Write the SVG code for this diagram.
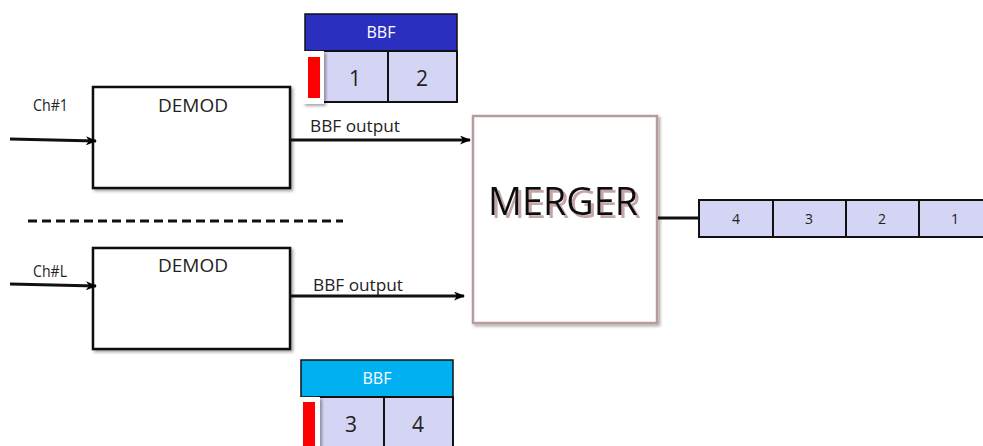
<svg xmlns="http://www.w3.org/2000/svg" width="983" height="446" viewBox="0 0 983 446">
<defs>
<marker id="arr" markerWidth="11" markerHeight="9" refX="10" refY="4.5" orient="auto" markerUnits="userSpaceOnUse">
<path d="M0,0 L11,4.5 L0,9 L3,4.5 Z" fill="#000"/>
</marker>
<filter id="sh" x="-10%" y="-10%" width="130%" height="130%">
<feGaussianBlur in="SourceAlpha" stdDeviation="1.5"/>
<feOffset dx="2" dy="2" result="b"/>
<feComponentTransfer><feFuncA type="linear" slope="0.35"/></feComponentTransfer>
<feMerge><feMergeNode/><feMergeNode in="SourceGraphic"/></feMerge>
</filter>
<filter id="tsh" x="-10%" y="-20%" width="130%" height="150%">
<feOffset in="SourceAlpha" dx="2.5" dy="2.5" result="o"/>
<feFlood flood-color="#c4a6a6"/>
<feComposite in2="o" operator="in"/>
<feMerge><feMergeNode/><feMergeNode in="SourceGraphic"/></feMerge>
</filter>
</defs>
<style>
.t{font-family:"Open Sans","Liberation Sans",sans-serif;fill:#222}
.box{fill:#fff;stroke:#111;stroke-width:2.5}
.cell{fill:#d4d4f4;stroke:#111;stroke-width:2}
.ln{stroke:#111;stroke-width:2.8;fill:none}
</style>
<rect width="983" height="446" fill="#fff"/>

<g id="demod1">
<rect class="box" x="93" y="87" width="197" height="101" filter="url(#sh)"/>
<text class="t" x="158" y="112" font-size="18" textLength="70" lengthAdjust="spacingAndGlyphs">DEMOD</text>
</g>
<g id="demodL">
<rect class="box" x="93" y="248" width="197" height="101" filter="url(#sh)"/>
<text class="t" x="158" y="272" font-size="18" textLength="70" lengthAdjust="spacingAndGlyphs">DEMOD</text>
</g>

<g id="labels">
<text class="t" x="33" y="111" font-size="17" textLength="35" lengthAdjust="spacingAndGlyphs">Ch#1</text>
<text class="t" x="33" y="277" font-size="17" textLength="34" lengthAdjust="spacingAndGlyphs">Ch#L</text>
<text class="t" x="310" y="132" font-size="16" textLength="90" lengthAdjust="spacingAndGlyphs">BBF output</text>
<text class="t" x="313" y="291" font-size="16" textLength="90" lengthAdjust="spacingAndGlyphs">BBF output</text>
</g>

<g id="merger">
<rect x="473" y="116" width="184" height="207" fill="#fff" stroke="#b89c9c" stroke-width="2.5" filter="url(#sh)"/>
<text class="t" x="563" y="215" font-size="38" text-anchor="middle" textLength="150" lengthAdjust="spacingAndGlyphs" filter="url(#tsh)" style="fill:#111">MERGER</text>
</g>

<g id="bbf1">
<rect x="305" y="14" width="152" height="37" fill="#2b2fc0" stroke="#111" stroke-width="1.5"/>
<text x="381" y="38" font-size="16" text-anchor="middle" font-family="Open Sans, Liberation Sans, sans-serif" fill="#fff">BBF</text>
<rect class="cell" x="322" y="51" width="66" height="51"/>
<rect class="cell" x="388" y="51" width="69" height="51"/>
<rect x="303" y="51" width="21" height="53" fill="#fff" filter="url(#sh)"/>
<rect x="308" y="57" width="12" height="41" fill="#f00"/>
<text class="t" x="355" y="86" font-size="21" text-anchor="middle">1</text>
<text class="t" x="422" y="86" font-size="21" text-anchor="middle">2</text>
</g>

<g id="bbf2">
<rect x="301" y="360" width="152" height="37" fill="#00b0f0" stroke="#111" stroke-width="1.5"/>
<text x="377" y="384" font-size="16" text-anchor="middle" font-family="Open Sans, Liberation Sans, sans-serif" fill="#fff">BBF</text>
<rect class="cell" x="318" y="397" width="66" height="55"/>
<rect class="cell" x="384" y="397" width="69" height="55"/>
<rect x="299" y="397" width="21" height="55" fill="#fff" filter="url(#sh)"/>
<rect x="303" y="402" width="12" height="44" fill="#f00"/>
<text class="t" x="351" y="432" font-size="21" text-anchor="middle">3</text>
<text class="t" x="418" y="432" font-size="21" text-anchor="middle">4</text>
</g>

<g id="queue">
<rect class="cell" x="699" y="200" width="74" height="37"/>
<rect class="cell" x="773" y="200" width="73" height="37"/>
<rect class="cell" x="846" y="200" width="73" height="37"/>
<rect class="cell" x="919" y="200" width="73" height="37"/>
<text class="t" x="736" y="224" font-size="14" text-anchor="middle">4</text>
<text class="t" x="809" y="224" font-size="14" text-anchor="middle">3</text>
<text class="t" x="882" y="224" font-size="14" text-anchor="middle">2</text>
<text class="t" x="955" y="224" font-size="14" text-anchor="middle">1</text>
</g>

<g id="connectors">
<line class="ln" x1="10" y1="139" x2="96" y2="141" marker-end="url(#arr)"/>
<line class="ln" x1="10" y1="284" x2="96" y2="286" marker-end="url(#arr)"/>
<line class="ln" x1="290" y1="140" x2="470" y2="140" marker-end="url(#arr)"/>
<line class="ln" x1="290" y1="296" x2="464" y2="296" marker-end="url(#arr)"/>
<line class="ln" x1="658" y1="218" x2="699" y2="218"/>
<line x1="28" y1="221" x2="343" y2="221" stroke="#111" stroke-width="3" stroke-dasharray="9,5"/>
</g>
</svg>
